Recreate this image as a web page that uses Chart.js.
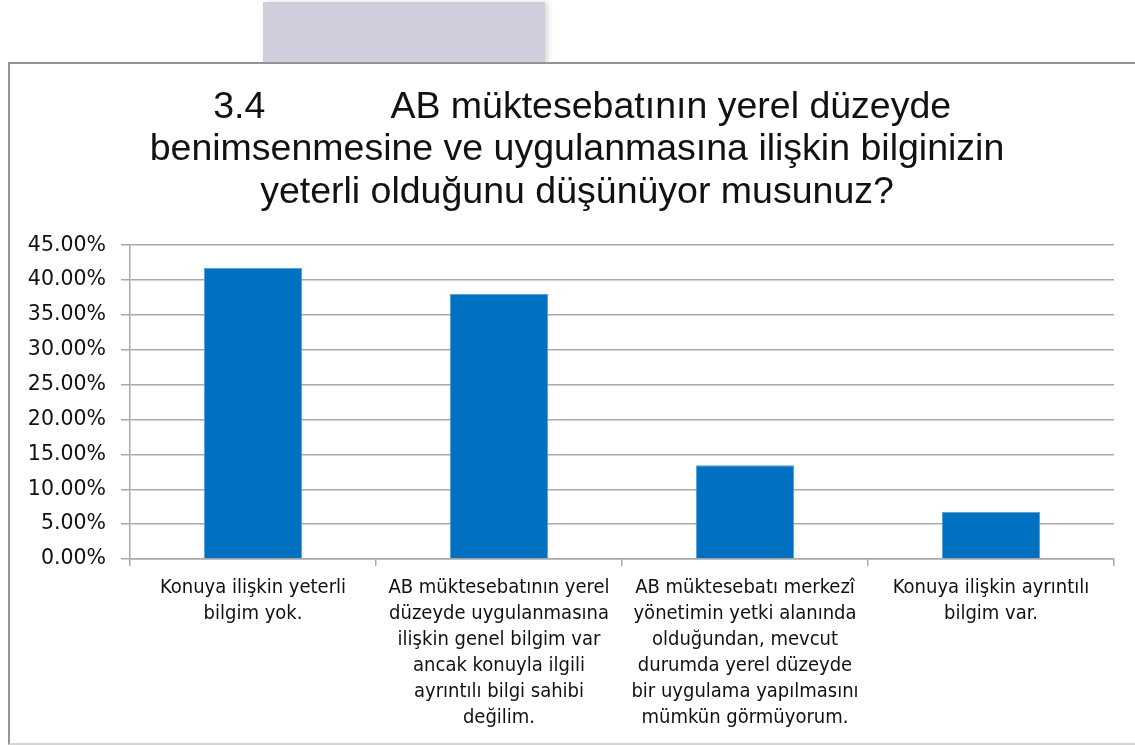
<!DOCTYPE html>
<html>
<head>
<meta charset="utf-8">
<script src="https://cdn.jsdelivr.net/npm/chart.js@4"></script>
<style>
	html, body {
		margin: 0;
		padding: 0;
		width: 1135px;
		height: 745px;
		overflow: hidden;
		background: #ffffff;
	}

	.tab {
		position: absolute;
		left: 263px;
		top: 2px;
		width: 282px;
		height: 61px;
		background: #cfcedd;
		box-shadow: 3px 0 5px rgba(0, 0, 0, 0.15);
	}

	.frame {
		position: absolute;
		left: 8px;
		top: 62px;
		width: 1140px;
		height: 679px;
		border-top: 2px solid #959595;
		border-left: 2px solid #959595;
		border-bottom: 2px solid #d4d4d4;
		background: #ffffff;
	}

	.chart-box {
		position: absolute;
		left: 0;
		top: 0;
		width: 1134px;
		height: 678px;
	}
</style>
</head>
<body>
<div class="tab"></div>
<div class="frame">
	<div class="chart-box"><canvas id="chart"></canvas></div>
</div>
<script>
	// Answer categories (x axis), already split in lines as on the slide
	const categories = [
		["Konuya ilişkin yeterli", "bilgim yok."],
		["AB müktesebatının yerel", "düzeyde uygulanmasına", "ilişkin genel bilgim var", "ancak konuyla ilgili", "ayrıntılı bilgi sahibi", "değilim."],
		["AB müktesebatı merkezî", "yönetimin yetki alanında", "olduğundan, mevcut", "durumda yerel düzeyde", "bir uygulama yapılmasını", "mümkün görmüyorum."],
		["Konuya ilişkin ayrıntılı", "bilgim var."]
	]

	// Share of answers, percent
	const shares = [41.77, 38.04, 13.45, 6.77]

	// Y axis range
	const y_min = 0
	const y_max = 45
	const y_step = 5

	const title_lines = [
		" 3.4            AB müktesebatının yerel düzeyde",
		"benimsenmesine ve uygulanmasına ilişkin bilginizin",
		"yeterli olduğunu düşünüyor musunuz?"
	]

	const grid_color = "#a9a9a9"

	new Chart(document.getElementById("chart"), {
		type: "bar",
		data: {
			labels: categories,
			datasets: [{
				data: shares,
				backgroundColor: "#0070c0",
				borderColor: "#4f9bd6",
				borderWidth: 1,
				barPercentage: 0.4,
				categoryPercentage: 1
			}]
		},
		options: {
			responsive: true,
			maintainAspectRatio: false,
			animation: false,
			layout: {
				padding: { left: 0, right: 0, top: 0, bottom: 0 }
			},
			plugins: {
				legend: { display: false },
				tooltip: { enabled: false },
				title: {
					display: true,
					text: title_lines,
					color: "#111111",
					font: { family: "'Liberation Sans', Arial, sans-serif", size: 37.5, weight: "normal", lineHeight: 1.14 },
					padding: { top: 22, bottom: 31 }
				}
			},
			scales: {
				x: {
					grid: {
						offset: true,
						drawOnChartArea: false,
						drawTicks: true,
						tickLength: 7,
						color: grid_color,
						lineWidth: 1.5
					},
					border: { display: true, color: grid_color, width: 1.5 },
					ticks: {
						autoSkip: false,
						maxRotation: 0,
						minRotation: 0,
						padding: 9,
						color: "#111111",
						font: { family: "'DejaVu Sans Condensed', 'DejaVu Sans', sans-serif", size: 20, lineHeight: 1.3 }
					},
					afterFit(scale) {
						scale.height = 183
					}
				},
				y: {
					min: y_min,
					max: y_max,
					grid: {
						color: grid_color,
						lineWidth: 1.5,
						tickLength: 9
					},
					border: { display: true, color: grid_color, width: 1.5 },
					ticks: {
						stepSize: y_step,
						padding: 15,
						color: "#111111",
						font: { family: "'DejaVu Sans', sans-serif", size: 20.5 },
						callback: value => value.toFixed(2) + "%"
					},
					afterFit(scale) {
						scale.width = 120
					}
				},
				// empty strip on the right so the title centre sits where it does on the slide
				right_gap: {
					type: "linear",
					position: "right",
					grid: { display: false },
					border: { display: false },
					ticks: { display: false },
					afterFit(scale) {
						scale.width = 30
					}
				}
			}
		}
	})
</script>
</body>
</html>
